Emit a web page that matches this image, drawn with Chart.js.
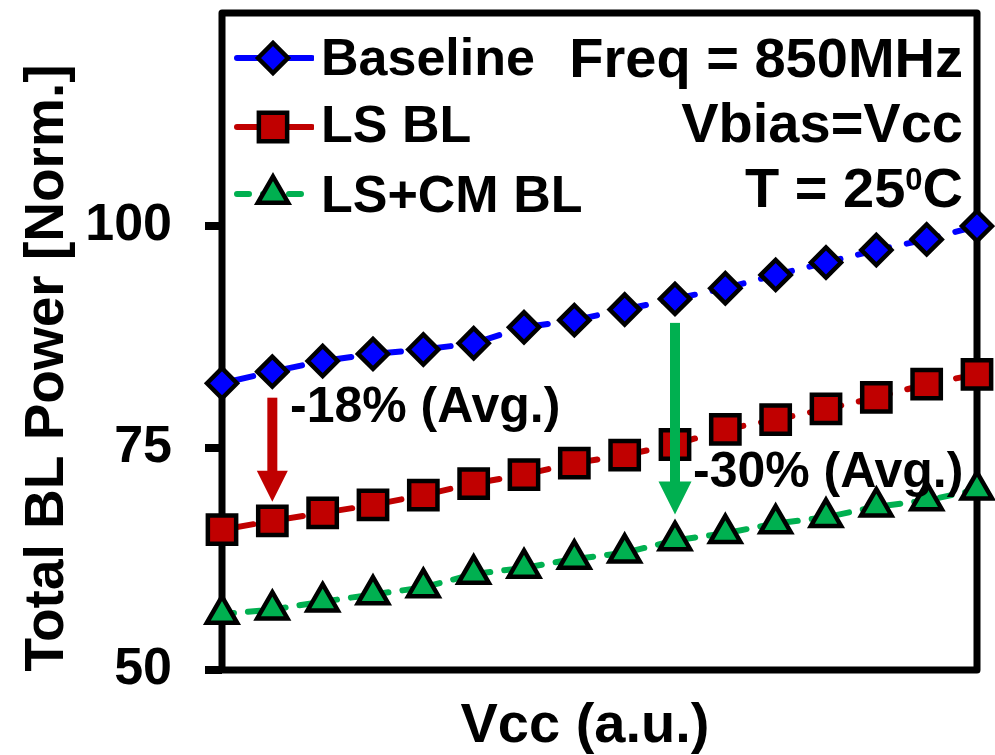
<!DOCTYPE html>
<html>
<head>
<meta charset="utf-8">
<title>Total BL Power vs Vcc</title>
<script src="https://cdn.jsdelivr.net/npm/chart.js@4/dist/chart.umd.min.js"></script>
<style>
  html, body { margin: 0; padding: 0; background: #fff; overflow: hidden; }
  #wrap { width: 995px; height: 755px; }
  #chart { display: block; }
</style>
</head>
<body>
<div id="wrap"><canvas id="chart"></canvas></div>
<script>
// Vcc sweep steps (arbitrary units) and normalized bit-line power per scheme
const vccSteps = [0, 1, 2, 3, 4, 5, 6, 7, 8, 9, 10, 11, 12, 13, 14, 15];
const baselinePower = [82.3, 83.6, 84.8, 85.6, 86.1, 86.8, 88.6, 89.4, 90.6, 91.8, 93.0, 94.5, 95.9, 97.3, 98.5, 100.0];
const lsPower = [65.8, 66.8, 67.7, 68.6, 69.7, 71.0, 72.0, 73.3, 74.2, 75.4, 77.1, 78.2, 79.4, 80.7, 82.2, 83.3];
const lsCmPower = [56.3, 56.8, 57.7, 58.5, 59.3, 60.8, 61.5, 62.5, 63.2, 64.6, 65.4, 66.5, 67.2, 68.4, 69.1, 70.3];
const powerTicks = [50, 75, 100];

const seriesNames = ["Baseline", "LS BL", "LS+CM BL"];
const conditionLines = ["Freq = 850MHz", "Vbias=Vcc"];
const savingLabels = ["-18% (Avg.)", "-30% (Avg.)"];
// the arrows point at these sweep steps
const savingSteps = [1, 9];

const FONT = "'Liberation Sans', Arial, Helvetica, sans-serif";
const BLUE = "#0000ff";
const RED = "#c00000";
const GREEN = "#00b050";

function toPoints(values) {
  return values.map((v, i) => ({ x: vccSteps[i], y: v }));
}

const series = [
  { label: seriesNames[0], data: toPoints(baselinePower), color: BLUE, style: "rectRot", radius: 15, dash: [32, 18] },
  { label: seriesNames[1], data: toPoints(lsPower), color: RED, style: "rect", radius: 20, dash: [32, 18] },
  { label: seriesNames[2], data: toPoints(lsCmPower), color: GREEN, style: "triangle", radius: 17.5, dash: [12, 14] },
];

function drawArrow(ctx, x, yTop, yTip, color, headW, headH) {
  ctx.save();
  ctx.fillStyle = color;
  ctx.fillRect(x - 5, yTop, 10, yTip - headH - yTop + 1);
  ctx.beginPath();
  ctx.moveTo(x - headW / 2, yTip - headH);
  ctx.lineTo(x + headW / 2, yTip - headH);
  ctx.lineTo(x, yTip);
  ctx.closePath();
  ctx.fill();
  ctx.restore();
}

const overlay = {
  id: "overlay",
  beforeDatasetsDraw(chart) {
    const { ctx, chartArea: a } = chart;
    ctx.save();
    ctx.strokeStyle = "#000";
    ctx.lineWidth = 7;
    ctx.lineJoin = "round";
    ctx.strokeRect(a.left, a.top, a.right - a.left, a.bottom - a.top);
    ctx.restore();
  },
  afterDatasetsDraw(chart) {
    const { ctx } = chart;
    const xs = chart.scales.x;
    const ys = chart.scales.y;

    // reduction arrows, from the baseline marker down to the reduced series
    const s0 = savingSteps[0];
    const s1 = savingSteps[1];
    drawArrow(ctx, xs.getPixelForValue(s0), ys.getPixelForValue(baselinePower[s0]) + 26,
      ys.getPixelForValue(lsPower[s0]) - 19, RED, 31, 31);
    drawArrow(ctx, xs.getPixelForValue(s1), ys.getPixelForValue(baselinePower[s1]) + 24,
      ys.getPixelForValue(lsCmPower[s1]) - 26, GREEN, 33, 33);

    ctx.save();
    ctx.fillStyle = "#000";
    ctx.textBaseline = "alphabetic";
    ctx.font = "bold 50px " + FONT;
    ctx.textAlign = "left";
    ctx.fillText(savingLabels[0], 290, 422);
    ctx.fillText(savingLabels[1], 693, 487);

    // legend rows: line sample, marker, name
    const rowY = [58, 127, 194];
    const textY = [75, 142, 212];
    series.forEach((s, i) => {
      ctx.save();
      ctx.beginPath();
      ctx.rect(233, rowY[i] - 10, 81, 20);
      ctx.clip();
      ctx.strokeStyle = s.color;
      ctx.lineWidth = 6;
      ctx.lineCap = "round";
      ctx.setLineDash(i === 2 ? [12, 14] : []);
      ctx.beginPath();
      ctx.moveTo(237, rowY[i]);
      ctx.lineTo(312, rowY[i]);
      ctx.stroke();
      ctx.restore();

      ctx.save();
      ctx.fillStyle = s.color;
      ctx.strokeStyle = "#000";
      ctx.lineWidth = 4.5;
      ctx.setLineDash([]);
      Chart.helpers.drawPoint(ctx, { pointStyle: s.style, radius: s.radius, rotation: 0, borderWidth: 4.5 }, 273, rowY[i]);
      ctx.restore();

      ctx.font = "bold 52px " + FONT;
      ctx.textAlign = "left";
      ctx.fillText(s.label, 321, textY[i]);
    });

    // test conditions, right aligned
    const rightX = 963;
    ctx.font = "bold 56px " + FONT;
    ctx.textAlign = "right";
    ctx.fillText(conditionLines[0], rightX, 77);
    ctx.fillText(conditionLines[1], rightX, 142);
    // temperature with a superscript degree zero
    ctx.textAlign = "left";
    const cW = ctx.measureText("C").width;
    ctx.font = "bold 31px " + FONT;
    const supW = ctx.measureText("0").width;
    ctx.font = "bold 56px " + FONT;
    const mainW = ctx.measureText("T = 25").width;
    let x = rightX - cW - supW - mainW;
    ctx.fillText("T = 25", x, 207);
    x += mainW;
    ctx.font = "bold 31px " + FONT;
    ctx.fillText("0", x, 190);
    x += supW;
    ctx.font = "bold 56px " + FONT;
    ctx.fillText("C", x, 207);
    ctx.restore();
  },
  afterDraw(chart) {
    const { ctx } = chart;
    ctx.save();
    ctx.fillStyle = "#000";
    ctx.textAlign = "center";
    ctx.textBaseline = "alphabetic";
    ctx.font = "bold 56px " + FONT;
    ctx.fillText("Vcc (a.u.)", 585, 742);

    ctx.translate(63, 368);
    ctx.rotate(-Math.PI / 2);
    ctx.font = "bold 55px " + FONT;
    ctx.fillText("Total BL Power [Norm.]", 0, 0);
    ctx.restore();
  },
};

new Chart(document.getElementById("chart"), {
  type: "line",
  data: {
    datasets: series.map((s) => ({
      label: s.label,
      data: s.data,
      borderColor: s.color,
      borderWidth: 6,
      borderDash: s.dash,
      borderCapStyle: "round",
      pointStyle: s.style,
      pointRadius: s.radius,
      pointBackgroundColor: s.color,
      pointBorderColor: "#000",
      pointBorderWidth: 4.5,
      tension: 0,
      clip: false,
    })),
  },
  options: {
    responsive: true,
    maintainAspectRatio: false,
    animation: false,
    events: [],
    layout: { autoPadding: false, padding: { top: 13, right: 18, bottom: 85, left: 0 } },
    plugins: {
      legend: { display: false },
      tooltip: { enabled: false },
    },
    scales: {
      x: {
        type: "linear",
        min: vccSteps[0],
        max: vccSteps[vccSteps.length - 1],
        display: false,
      },
      y: {
        type: "linear",
        min: 50,
        max: 124,
        afterBuildTicks: (scale) => {
          scale.ticks = powerTicks.map((v) => ({ value: v }));
        },
        afterFit: (scale) => {
          scale.width = 222;
          // labels sit well inside the axis, no extra room needed above or below
          scale.paddingTop = 0;
          scale.paddingBottom = 0;
        },
        border: { display: false },
        grid: {
          drawOnChartArea: false,
          drawTicks: true,
          tickLength: 17,
          lineWidth: 8,
          color: "#000",
          tickColor: "#000",
        },
        ticks: {
          color: "#000",
          padding: 33,
          font: { family: FONT, size: 52, weight: "bold" },
        },
      },
    },
  },
  plugins: [overlay],
});
</script>
</body>
</html>
